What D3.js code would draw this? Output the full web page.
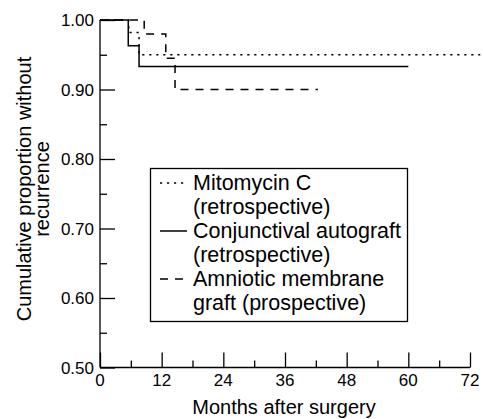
<!DOCTYPE html>
<html>
<head>
<meta charset="utf-8">
<script src="https://cdn.jsdelivr.net/npm/d3@7"></script>
<style>
  body { margin: 0; background: #fff; }
  text { font-family: "Liberation Sans", Arial, sans-serif; fill: #000; }
</style>
</head>
<body>
<svg width="483" height="419"></svg>
<script>
// Kaplan-Meier steps: months after surgery and proportion without recurrence
const mitomycinMonths = [0, 5.6, 7.6, 74];
const mitomycinValues = [1.00, 0.982, 0.950, 0.950];
const autograftMonths = [0, 5.5, 7.6, 60];
const autograftValues = [1.00, 0.963, 0.933, 0.933];
const amnioticMonths = [0, 8.6, 12.8, 14.6, 42.4];
const amnioticValues = [1.00, 0.980, 0.945, 0.900, 0.900];

const xTicks = [0, 12, 24, 36, 48, 60, 72];
const yTicks = [0.50, 0.60, 0.70, 0.80, 0.90, 1.00];
const legendLabels = [
  ['Mitomycin C', '(retrospective)'],
  ['Conjunctival autograft', '(retrospective)'],
  ['Amniotic membrane', 'graft (prospective)']
];
const dashes = ['2.2,4.8', null, '8,7'];

const svg = d3.select('svg');

const x = d3.scaleLinear().domain([0, 72]).range([100, 470]);
const y = d3.scaleLinear().domain([0.5, 1]).range([367.5, 20]);

const line = d3.line()
  .x(d => x(d[0]))
  .y(d => y(d[1]))
  .curve(d3.curveStepAfter);

const series = [
  d3.zip(mitomycinMonths, mitomycinValues),
  d3.zip(autograftMonths, autograftValues),
  d3.zip(amnioticMonths, amnioticValues)
];

// axes, ticks pointing inwards
const yAxis = svg.append('g')
  .attr('transform', `translate(${x(0)},0)`)
  .call(d3.axisRight(y)
    .tickValues(d3.range(0.5, 1.001, 0.05))
    .tickSize(7)
    .tickFormat(''));
yAxis.selectAll('.tick line')
  .attr('x2', (d, i) => i % 2 === 0 ? 15 : 7);
yAxis.select('.domain').attr('d', `M0,${y(0.5)}V${y(1)}`);

const xAxis = svg.append('g')
  .attr('transform', `translate(0,${y(0.5)})`)
  .call(d3.axisTop(x)
    .tickValues(d3.range(0, 72.1, 6))
    .tickSize(7)
    .tickFormat(''));
xAxis.selectAll('.tick line')
  .attr('y2', (d, i) => i % 2 === 0 ? -15 : -7);
xAxis.select('.domain').attr('d', `M${x(0)},0H${x(72)}`);

svg.selectAll('.domain, .tick line')
  .attr('stroke', '#000')
  .attr('stroke-width', 1.3);

svg.append('g').selectAll('text')
  .data(yTicks)
  .join('text')
    .attr('x', 94)
    .attr('y', d => y(d) + 6)
    .attr('text-anchor', 'end')
    .attr('font-size', 17)
    .text(d3.format('.2f'));

svg.append('g').selectAll('text')
  .data(xTicks)
  .join('text')
    .attr('x', d => x(d))
    .attr('y', 386)
    .attr('text-anchor', 'middle')
    .attr('font-size', 17)
    .text(d => d);

svg.append('text')
  .attr('x', 284)
  .attr('y', 414)
  .attr('text-anchor', 'middle')
  .attr('font-size', 20)
  .text('Months after surgery');

const yTitle = svg.append('text')
  .attr('transform', 'translate(0,189) rotate(-90)')
  .attr('text-anchor', 'middle')
  .attr('font-size', 20);
yTitle.append('tspan').attr('x', 0).attr('y', 31).text('Cumulative proportion without');
yTitle.append('tspan').attr('x', 0).attr('y', 49).text('recurrence');

// survival curves
svg.append('g').selectAll('path')
  .data(series)
  .join('path')
    .attr('d', line)
    .attr('fill', 'none')
    .attr('stroke', '#000')
    .attr('stroke-width', 1.5)
    .attr('stroke-dasharray', (d, i) => dashes[i]);

// legend
const legend = svg.append('g');
legend.append('rect')
  .attr('x', 150.5)
  .attr('y', 168.5)
  .attr('width', 257)
  .attr('height', 153)
  .attr('fill', '#fff')
  .attr('stroke', '#000')
  .attr('stroke-width', 1.3);

const item = legend.selectAll('.item')
  .data(legendLabels)
  .join('g')
    .attr('transform', (d, i) => `translate(0,${190 + i * 48})`);

item.append('line')
  .attr('x1', 160)
  .attr('x2', (d, i) => i === 1 ? 187 : 184)
  .attr('y1', -7)
  .attr('y2', -7)
  .attr('stroke', '#000')
  .attr('stroke-width', 1.5)
  .attr('stroke-dasharray', (d, i) => dashes[i]);

item.selectAll('text')
  .data(d => d)
  .join('text')
    .attr('x', 193)
    .attr('y', (d, i) => i * 24)
    .attr('font-size', 21.5)
    .text(d => d);
</script>
</body>
</html>
